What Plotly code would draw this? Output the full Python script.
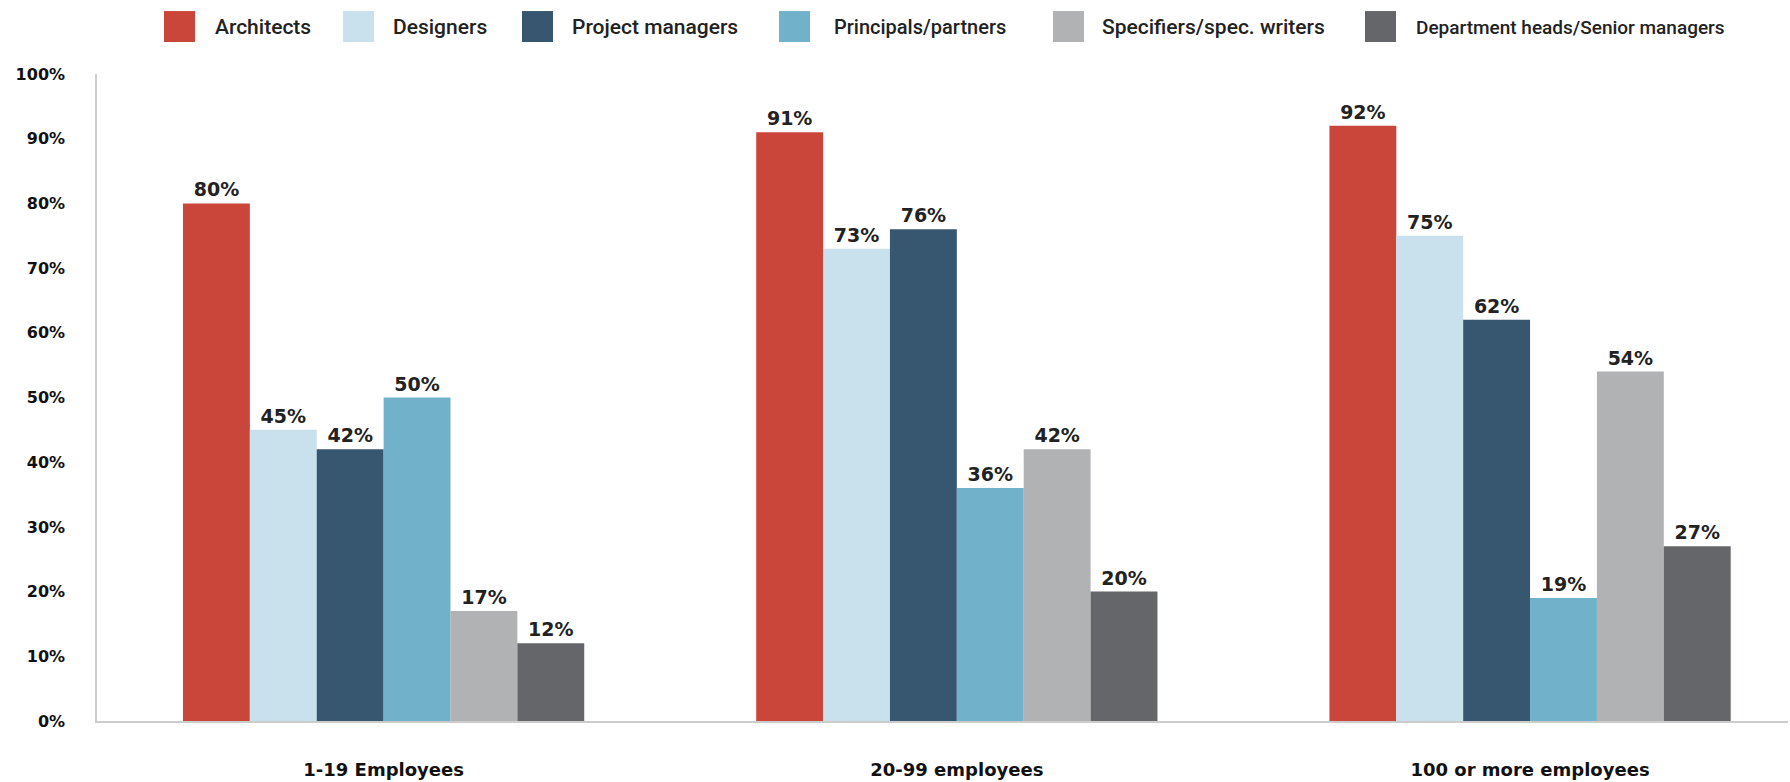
import plotly.graph_objects as go

groups = ["1-19 Employees", "20-99 employees", "100 or more employees"]
roles = [
    "Architects",
    "Designers",
    "Project managers",
    "Principals/partners",
    "Specifiers/spec. writers",
    "Department heads/Senior managers",
]
architects = [80, 91, 92]
designers = [45, 73, 75]
project_managers = [42, 76, 62]
principals = [50, 36, 19]
specifiers = [17, 42, 54]
dept_heads = [12, 20, 27]
series = [architects, designers, project_managers, principals, specifiers, dept_heads]
colors = ["#CB463A", "#C8E1EC", "#375670", "#71B1CA", "#B1B2B4", "#656669"]
y_ticks = list(range(0, 101, 10))

W, H = 1790, 782
ML, MR, MT, MB = 97, 2, 74, 60.5
PW, PH = W - ML - MR, H - MT - MB

fig = go.Figure()
for role, values, color in zip(roles, series, colors):
    fig.add_trace(
        go.Bar(
            x=groups,
            y=values,
            name=role,
            marker=dict(color=color, line=dict(width=0)),
            text=[f"{v}%" for v in values],
            textposition="outside",
            textfont=dict(family="DejaVu Sans", size=19, color="#222222", weight="bold"),
            cliponaxis=False,
            showlegend=False,
        )
    )

# legend drawn as large swatches (paper coordinates)
swatch_x = [164, 343, 522, 779, 1053, 1365]
label_x = [213, 391, 570, 832, 1100, 1414]
label_size = [21, 21, 21, 20, 21, 19]
for role, color, sx, lx, fs in zip(roles, colors, swatch_x, label_x, label_size):
    fig.add_shape(
        type="rect", xref="paper", yref="paper",
        x0=(sx - ML) / PW, x1=(sx + 31 - ML) / PW,
        y0=(H - MB - 42) / PH, y1=(H - MB - 11) / PH,
        fillcolor=color, line=dict(width=0), layer="above",
    )
    fig.add_annotation(
        xref="paper", yref="paper",
        x=(lx - ML) / PW, y=(H - MB - 27) / PH,
        text=role, showarrow=False, xanchor="left", yanchor="middle",
        font=dict(family="Roboto", size=fs, color="#222222", weight=500),
    )

fig.update_layout(
    width=W,
    height=H,
    barmode="group",
    bargap=0.3,
    bargroupgap=0,
    plot_bgcolor="white",
    paper_bgcolor="white",
    margin=dict(l=ML, r=MR, t=MT, b=MB),
    xaxis=dict(
        range=[-0.5, 2.45],
        automargin=False,
        showline=True,
        linecolor="#CCCCCC",
        linewidth=1.5,
        showgrid=False,
        ticks="",
        ticklabelstandoff=32,
        tickfont=dict(family="DejaVu Sans", size=18, color="#111111", weight="bold"),
    ),
    yaxis=dict(
        range=[0, 100],
        automargin=False,
        tickvals=y_ticks,
        ticktext=[f"{t}%" for t in y_ticks],
        showline=True,
        linecolor="#CCCCCC",
        linewidth=1.5,
        showgrid=False,
        zeroline=False,
        ticks="",
        ticklabelstandoff=27,
        tickfont=dict(family="DejaVu Sans", size=16, color="#111111", weight="bold"),
    ),
)

fig.write_html(
    "out.html",
    config={"displayModeBar": False},
    post_script="document.body.style.margin='0';",
)
